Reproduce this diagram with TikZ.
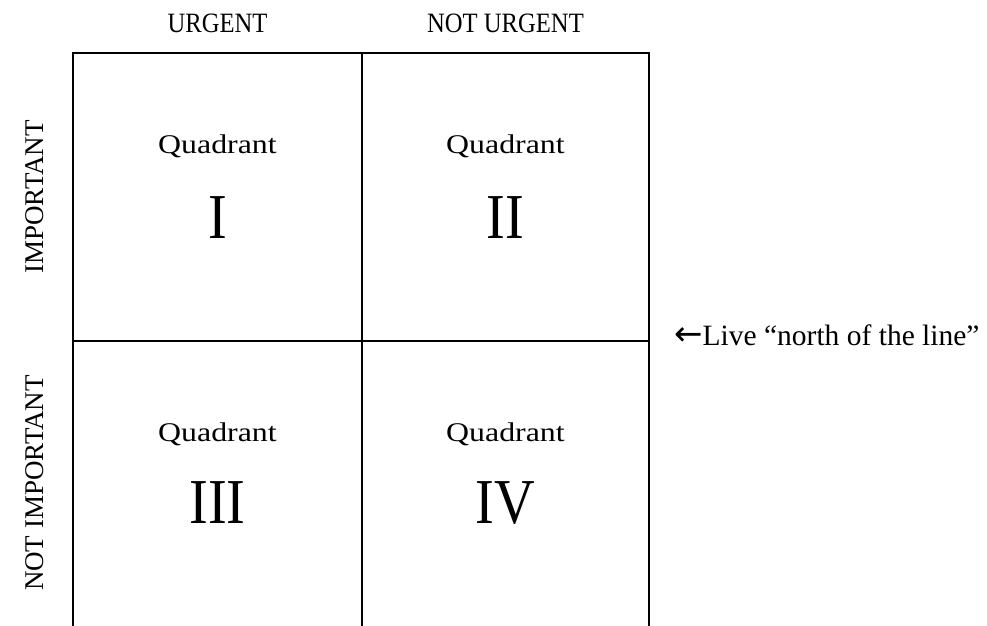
\documentclass[tikz,border=0pt]{standalone}
\usepackage{fontspec}
\setmainfont{Liberation Serif}
\newfontfamily\wideserif[FakeStretch=1.18]{Liberation Serif}
\newfontfamily\narrowserif[FakeStretch=0.88]{Liberation Serif}
\newfontfamily\arrowfont{DejaVu Sans}
\begin{document}
\begin{tikzpicture}[x=1pt,y=-1pt,
  gridline/.style={line width=2.4pt, line cap=rect},
  colhead/.style={anchor=base, font=\narrowserif\fontsize{28}{28}\selectfont},
  rowhead/.style={anchor=base, rotate=90, font=\fontsize{27}{27}\selectfont},
  qword/.style={anchor=base, font=\wideserif\fontsize{27}{27}\selectfont},
  qnum/.style={anchor=base, font=\narrowserif\fontsize{64}{64}\selectfont},
  note/.style={anchor=base west, inner sep=0pt, font=\fontsize{29.5}{30}\selectfont}]
\useasboundingbox (0,0) rectangle (987,625);
\fill[white] (0,0) rectangle (987,625);
% grid corners
\coordinate (tl) at (73,53);
\coordinate (tm) at (362,53);
\coordinate (tr) at (649,53);
\coordinate (ml) at (73,341);
\coordinate (mr) at (649,341);
\coordinate (bl) at (73,627);
\coordinate (bm) at (362,627);
\coordinate (br) at (649,627);
\draw[gridline] (tl) -- (tr);
\draw[gridline] (ml) -- (mr);
\draw[gridline] (tl) -- (bl);
\draw[gridline] (tm) -- (bm);
\draw[gridline] (tr) -- (br);
% headings
\node[colhead] (urg) at (217.5,32) {URGENT};
\node[colhead] (nurg) at (505.5,32) {NOT URGENT};
\node[rowhead] (imp) at (43,197) {IMPORTANT};
\node[rowhead] (nimp) at (43,483) {NOT IMPORTANT};
% quadrants
\node[qword] (w1) at (217.5,153) {Quadrant};
\node[qnum]  (n1) at (217.5,238) {I};
\node[qword] (w2) at (505.5,153) {Quadrant};
\node[qnum]  (n2) at (505.5,238) {II};
\node[qword] (w3) at (217.5,441) {Quadrant};
\node[qnum]  (n3) at (217.5,523) {III};
\node[qword] (w4) at (505.5,441) {Quadrant};
\node[qnum]  (n4) at (505.5,523) {IV};
% note
\node[note] (live) at (674,345) {{\arrowfont\fontsize{34}{34}\selectfont ←}Live “north of the line”};
\end{tikzpicture}
\end{document}
